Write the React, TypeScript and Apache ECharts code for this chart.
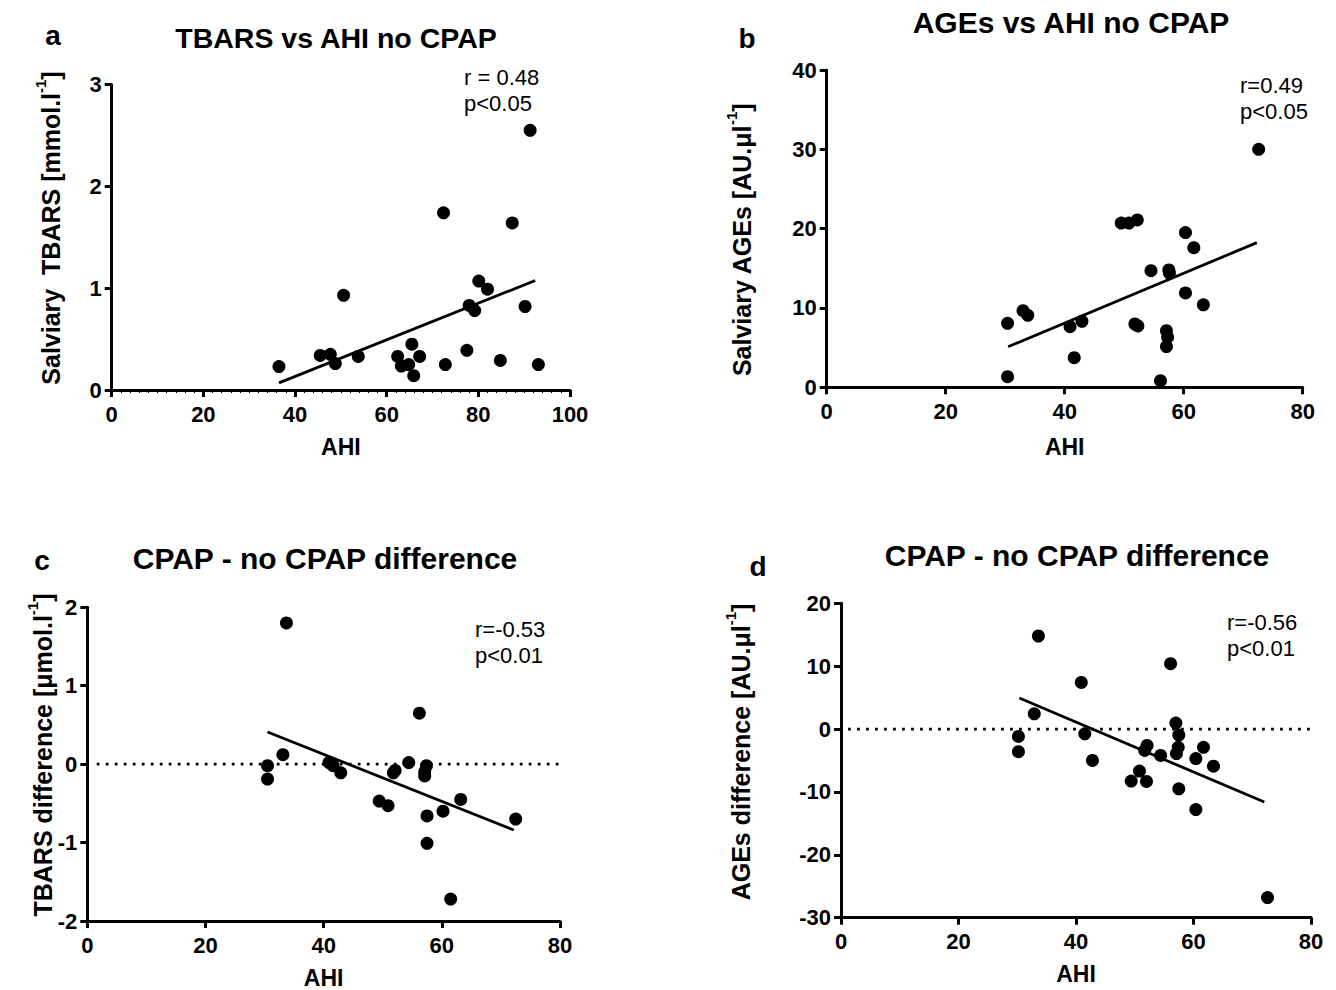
import React, { useEffect, useRef } from "react";
import * as echarts from "echarts";

// Panel a: TBARS vs AHI no CPAP
const aAHI = [36.5, 45.5, 47.7, 48.8, 50.6, 53.8, 62.4, 63.2, 64.8, 65.5, 65.9, 67.2, 72.4, 72.8, 77.5, 78.0, 79.2, 80.1, 82.0, 84.8, 87.4, 90.2, 91.3, 93.1];
const aTBARS = [0.23, 0.34, 0.35, 0.26, 0.93, 0.33, 0.33, 0.235, 0.25, 0.45, 0.14, 0.33, 1.74, 0.25, 0.39, 0.83, 0.78, 1.07, 0.99, 0.29, 1.64, 0.82, 2.55, 0.25];
const aFit = [[36.5, 0.07], [92.4, 1.075]];

// Panel b: AGEs vs AHI no CPAP
const bAHI = [30.4, 30.4, 33.0, 33.8, 40.9, 42.9, 41.6, 49.5, 50.8, 52.2, 51.8, 52.3, 54.5, 57.5, 57.6, 56.1, 57.1, 57.3, 57.1, 60.3, 61.7, 60.3, 63.3, 72.6];
const bAGEs = [8.07, 1.34, 9.66, 9.08, 7.64, 8.32, 3.73, 20.7, 20.7, 21.1, 7.98, 7.73, 14.7, 14.8, 14.4, 0.84, 7.14, 6.3, 5.13, 19.5, 17.6, 11.9, 10.4, 30.0];
const bFit = [[30.5, 5.12], [72.3, 18.24]];

// Panel c: TBARS difference
const cAHI = [33.7, 33.1, 30.5, 30.5, 40.9, 41.6, 42.9, 49.4, 50.9, 51.8, 52.1, 54.4, 56.2, 57.4, 57.1, 57.1, 57.5, 57.5, 60.2, 63.2, 61.5, 72.5];
const cDiff = [1.80, 0.12, -0.02, -0.19, 0.02, -0.02, -0.11, -0.47, -0.53, -0.11, -0.08, 0.02, 0.65, -0.02, -0.10, -0.15, -0.66, -1.01, -0.60, -0.45, -1.72, -0.70];
const cFit = [[30.5, 0.41], [72.2, -0.84]];
const cZero = [[1.6, 0], [80, 0]];

// Panel d: AGEs difference
const dAHI = [33.6, 32.9, 30.2, 30.2, 40.9, 41.5, 42.8, 49.4, 50.8, 52.0, 52.1, 51.7, 54.4, 56.1, 57.0, 57.5, 57.4, 57.1, 57.5, 60.4, 61.7, 63.4, 60.4, 72.6];
const dDiff = [14.8, 2.43, -1.17, -3.6, 7.41, -0.75, -4.99, -8.27, -6.68, -8.33, -2.6, -3.4, -4.2, 10.4, 0.95, -0.95, -2.9, -3.9, -9.5, -4.7, -2.9, -5.9, -12.8, -26.8];
const dFit = [[30.35, 4.93], [72.05, -11.6]];
const dZero = [[1.2, 0], [80, 0]];

const titles = ["TBARS vs AHI no CPAP", "AGEs vs AHI no CPAP", "CPAP - no CPAP difference", "CPAP - no CPAP difference"];
const letters = ["a", "b", "c", "d"];
const stats = [["r = 0.48", "p<0.05"], ["r=0.49", "p<0.05"], ["r=-0.53", "p<0.01"], ["r=-0.56", "p<0.01"]];
const yNames = [
  ["Salviary  TBARS [mmol.l", "-1", "]"],
  ["Salviary AGEs [AU.\u03bcl", "-1", "]"],
  ["TBARS difference [\u03bcmol.l", "-1", "]"],
  ["AGEs difference [AU.\u03bcl", "-1", "]"],
];
const xName = "AHI";
const xRanges = [[0, 100, 20], [0, 80, 20], [0, 80, 20], [0, 80, 20]];
const yRanges = [[0, 3, 1], [0, 40, 10], [-2, 2, 1], [-30, 20, 10]];

const FONT = "'Liberation Sans', Arial, Helvetica, sans-serif";

export default function App() {
  const ref = useRef<HTMLDivElement>(null);
  useEffect(() => {
    if (!ref.current) return;
    const chart = echarts.init(ref.current, undefined, { renderer: "svg" });

    const grids = [
      { left: 111.7, top: 84.5, width: 458.3, height: 305.5 },
      { left: 826.7, top: 70, width: 476, height: 317.3 },
      { left: 87.3, top: 607.3, width: 472.7, height: 314.4 },
      { left: 841, top: 603.3, width: 470, height: 314.4 },
    ];

    const axisCommon = {
      axisLine: { onZero: false, lineStyle: { color: "#000", width: 3 } },
      axisTick: { show: true, length: 7, lineStyle: { color: "#000", width: 3 } },
      splitLine: { show: false },
    };

    const xAxes = xRanges.map((r, i) => ({
      type: "value",
      gridIndex: i,
      min: r[0],
      max: r[1],
      interval: r[2],
      ...axisCommon,
      axisLabel: { color: "#000", fontFamily: FONT, fontWeight: "bold", fontSize: 22, margin: 13 },
      minorTick: i === 0 ? { show: true, splitNumber: 10, length: 3, lineStyle: { color: "#000", width: 1 } } : { show: false },
      name: xName,
      nameLocation: "middle",
      nameGap: i === 1 ? 48 : 45,
      nameTextStyle: { color: "#000", fontFamily: FONT, fontWeight: "bold", fontSize: 23 },
    }));

    const yAxes = yRanges.map((r, i) => ({
      type: "value",
      gridIndex: i,
      min: r[0],
      max: r[1],
      interval: r[2],
      ...axisCommon,
      axisLabel: { color: "#000", fontFamily: FONT, fontWeight: "bold", fontSize: 22, margin: 10 },
    }));

    const pts = (xs: number[], ys: number[]) => xs.map((x, k) => [x, ys[k]]);
    const scatter = (i: number, data: number[][]) => ({
      type: "scatter",
      xAxisIndex: i,
      yAxisIndex: i,
      data,
      symbol: "circle",
      symbolSize: 13,
      itemStyle: { color: "#000", opacity: 1 },
      z: 3,
    });
    const fit = (i: number, data: number[][]) => ({
      type: "line",
      xAxisIndex: i,
      yAxisIndex: i,
      data,
      symbol: "none",
      lineStyle: { color: "#000", width: 2.8 },
      z: 2,
    });
    const zero = (i: number, data: number[][]) => ({
      type: "line",
      xAxisIndex: i,
      yAxisIndex: i,
      data,
      symbol: "none",
      lineStyle: { color: "#000", width: 2.8, type: [2.8, 6.2] },
      z: 1,
    });

    const titlePos = [[336, 38], [1071, 22], [325, 558], [1077, 555]];
    const titleSize = [28.5, 30, 30, 30];
    const letterPos = [[53, 35], [747, 38], [42, 560], [758, 566]];
    const statPos = [[464, 77], [1240, 85], [475, 629], [1227, 622]];
    const yNamePos = [[48, 228], [739, 240], [40, 755], [738, 752]];

    const graphic: any[] = [];
    titles.forEach((t, i) => {
      graphic.push({
        type: "text",
        x: titlePos[i][0],
        y: titlePos[i][1],
        style: { text: t, font: `bold ${titleSize[i]}px ${FONT}`, fill: "#000", align: "center", verticalAlign: "middle" },
      });
      graphic.push({
        type: "text",
        x: letterPos[i][0],
        y: letterPos[i][1],
        style: { text: letters[i], font: `bold 28px ${FONT}`, fill: "#000", align: "center", verticalAlign: "middle" },
      });
      graphic.push({
        type: "text",
        x: statPos[i][0],
        y: statPos[i][1] - 13,
        style: {
          text: stats[i].join("\n"),
          font: `22px ${FONT}`,
          lineHeight: 26,
          fill: "#000",
          align: "left",
          verticalAlign: "top",
        },
      });
      const n = yNames[i];
      graphic.push({
        type: "text",
        x: yNamePos[i][0],
        y: yNamePos[i][1],
        rotation: Math.PI / 2,
        style: {
          text: `{n|${n[0]}}{s|${n[1]}}{n|${n[2]}}`,
          align: "center",
          verticalAlign: "middle",
          rich: {
            n: { fontFamily: FONT, fontWeight: "bold", fontSize: 25, lineHeight: 30, verticalAlign: "bottom", fill: "#000", color: "#000" },
            s: { fontFamily: FONT, fontWeight: "bold", fontSize: 15, lineHeight: 30, verticalAlign: "top", fill: "#000", color: "#000" },
          },
        },
      });
    });

    chart.setOption({
      animation: false,
      backgroundColor: "#fff",
      grid: grids,
      xAxis: xAxes,
      yAxis: yAxes,
      series: [
        scatter(0, pts(aAHI, aTBARS)),
        fit(0, aFit),
        scatter(1, pts(bAHI, bAGEs)),
        fit(1, bFit),
        scatter(2, pts(cAHI, cDiff)),
        fit(2, cFit),
        zero(2, cZero),
        scatter(3, pts(dAHI, dDiff)),
        fit(3, dFit),
        zero(3, dZero),
      ],
      graphic,
    } as any);

    return () => chart.dispose();
  }, []);

  return <div ref={ref} style={{ position: "absolute", left: 0, top: 0, width: 1336, height: 990 }} />;
}
